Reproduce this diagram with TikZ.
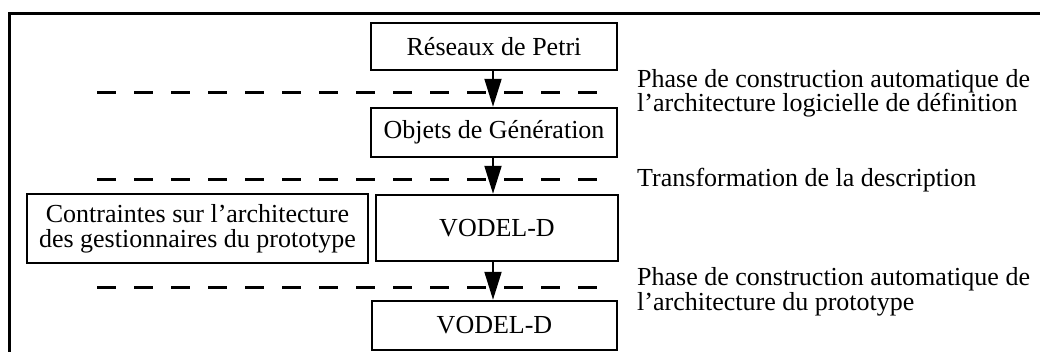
\documentclass[tikz,border=0pt]{standalone}
\usepackage{fontspec}
\setmainfont{Liberation Serif}
\usetikzlibrary{arrows.meta}
\begin{document}
\begin{tikzpicture}[x=1pt,y=-1pt,
  stepbox/.style={draw, line width=2.5pt, inner sep=0pt, align=center,
    font=\fontsize{26}{25}\selectfont},
  lbl/.style={inner sep=0pt, align=left, font=\fontsize{26}{24.5}\selectfont},
  arr/.style={line width=2pt, -{Triangle[length=28pt,width=17pt]}},
  phase/.style={line width=3pt, dash pattern=on 19pt off 18pt}]
\useasboundingbox (0,0) rectangle (1040,351);
% frame (cropped at right and bottom)
\draw[line width=3pt] (1050,13) -- (9,13) -- (9,360);
% boxes
\node[stepbox, minimum width=246pt, minimum height=47pt] (b1) at (494,46.5) {Réseaux de Petri};
\node[stepbox, minimum width=246pt, minimum height=49pt] (b2) at (494,132.5) {Objets de Génération};
\node[stepbox, minimum width=242pt, minimum height=66pt] (b3) at (497,228) {VODEL-D};
\node[stepbox, minimum width=245pt, minimum height=49pt] (b4) at (494.5,325.5) {VODEL-D};
\node[stepbox, minimum width=341pt, minimum height=69pt] (c) at (197.5,228.5)
  {Contraintes sur l’architecture\\des gestionnaires du prototype};
% phase separators
\draw[phase] (97,92) -- (612,92);
\draw[phase] (97,179) -- (612,179);
\draw[phase] (97,287) -- (612,287);
% arrows
\coordinate (ax) at (493,0);
\draw[arr] (b1.south -| ax) -- (b2.north -| ax);
\draw[arr] (b2.south -| ax) -- (b3.north -| ax);
\draw[arr] (b3.south -| ax) -- (b4.north -| ax);
% labels (base anchor = baseline of the last line)
\node[lbl, anchor=base west] (t1) at (637,111.5)
  {Phase de construction automatique de\\l’architecture logicielle de définition};
\node[lbl, anchor=base west] (t2) at (637,186) {Transformation de la description};
\node[lbl, anchor=base west] (t3) at (637,310)
  {Phase de construction automatique de\\l’architecture du prototype};
\end{tikzpicture}
\end{document}
